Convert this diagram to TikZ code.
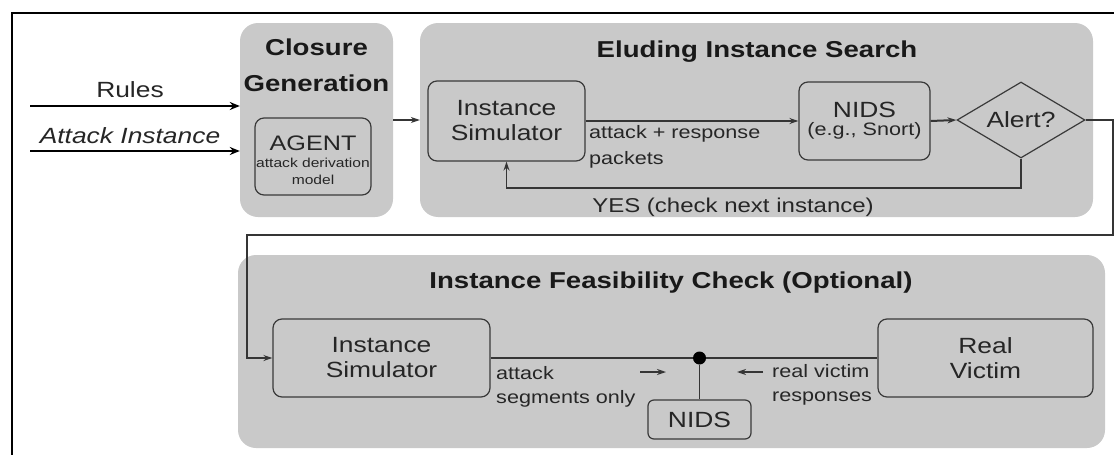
\documentclass[tikz,border=0pt]{standalone}
\usepackage{fontspec}
\setmainfont[FakeStretch=1.2]{Liberation Sans}
\usetikzlibrary{shapes.geometric,arrows.meta,calc}
\definecolor{grp}{HTML}{C9C9C9}
\definecolor{bord}{HTML}{3A3A3A}
\definecolor{lin}{HTML}{353535}
\newcommand{\fs}[1]{\fontsize{#1}{#1}\selectfont}
\begin{document}
\begin{tikzpicture}[x=1pt,y=-1pt,
  grpbox/.style={fill=grp,draw=none,rounded corners=18pt,inner sep=0pt},
  ibox/.style={draw=bord,line width=1.2pt,rounded corners=9pt,inner sep=0pt,align=center,text=black!85},
  conn/.style={draw=lin,line width=1.6pt,-{Stealth[length=9pt,width=6pt]}},
  plain/.style={draw=lin,line width=1.6pt},
  inarrow/.style={draw=black,line width=2.4pt,-{Stealth[length=10pt,width=8pt]}},
  ttl/.style={font=\fs{23}\bfseries,text=black!90},
  lbl/.style={font=\fs{18},text=black!85,align=left,inner sep=0pt}
]
\useasboundingbox (0,0) rectangle (1114,455);
% frame
\draw[line width=2pt] (12,455) -- (12,13) -- (1114,13);

% groups
\node[grpbox,minimum width=153pt,minimum height=194pt] (clos) at (316.5,120) {};
\node[grpbox,minimum width=673pt,minimum height=194pt] (elud) at (756.5,120) {};
\node[grpbox,minimum width=867pt,minimum height=193pt] (feas) at (671.5,351.5) {};

% titles
\node[ttl] (tclos1) at (316.5,47) {Closure};
\node[ttl] (tclos2) at (316.5,83) {Generation};
\node[ttl] (telud) at (757,52) {Eluding Instance Search};
\node[ttl] (tfeas) at (671,283) {Instance Feasibility Check (Optional)};

% inputs
\node[font=\fs{22},text=black!85] (rules) at (130,90) {Rules};
\node[font=\fs{22}\itshape,text=black!85] (ainst) at (130,136) {Attack Instance};
\coordinate (r0) at (30,106);
\coordinate (a0) at (30,151);
\draw[inarrow] (r0) -- (r0 -| clos.west);
\draw[inarrow] (a0) -- (a0 -| clos.west);

% AGENT
\node[ibox,minimum width=116pt,minimum height=77pt] (agent) at (313,156.5) {};
\node[font=\fs{21},text=black!85] (agt) at (313,143) {AGENT};
\node[font=\fs{13},text=black!85] (agd) at (313,163) {attack derivation};
\node[font=\fs{13},text=black!85] (agm) at (313,180) {model};

% closure -> eluding
\coordinate (ce) at (393,120);
\draw[conn,line width=1.2pt] (ce) -- (ce -| elud.west);

% eluding instance search
\node[ibox,minimum width=157pt,minimum height=80pt,font=\fs{22}] (sim1) at (506.5,121) {Instance\\[3pt]Simulator};
\node[ibox,minimum width=131pt,minimum height=78pt] (nids1) at (864.5,121) {\fs{22}NIDS\\[4pt]\fs{18}(e.g., Snort)};
\node[draw=bord,line width=1.2pt,diamond,aspect=1.68,minimum width=128pt,minimum height=76pt,inner sep=0pt,font=\fs{22},text=black!85] (alert) at (1021,120) {Alert?};

\draw[conn] (sim1.east |- 0,121) -- (nids1.west);
\draw[conn,line width=2pt] (nids1.east) -- (alert.west);
\coordinate (fb) at (0,188);
\draw[conn] (alert.south) -- (alert.south |- fb) -| (sim1.south);

\node[lbl,anchor=north west] (lap) at (589,125) {attack + response\\[8pt]packets};
\node[font=\fs{20},text=black!85] (yes) at (733,207) {YES (check next instance)};

% loop to feasibility
\coordinate (rx) at (1113,235);
\coordinate (lx) at (247,235);

% feasibility
\node[ibox,minimum width=217pt,minimum height=78pt,font=\fs{22}] (sim2) at (381.5,358) {Instance\\[3pt]Simulator};
\node[ibox,minimum width=215pt,minimum height=78pt,font=\fs{22}] (rv) at (985.5,358) {Real\\[3pt]Victim};
\node[ibox,minimum width=103pt,minimum height=39pt,font=\fs{22},rounded corners=6pt] (nids2) at (699.5,419.5) {NIDS};
\node[circle,fill=black,inner sep=0pt,minimum size=13pt] (dot) at (699.5,358) {};

\draw[conn] (alert.east) -| (rx) -- (lx) |- (sim2.west);

\draw[plain] (sim2.east) -- (dot) -- (rv.west);
\draw[plain] (dot) -- (nids2.north);

\coordinate (sa1) at (640,372);
\coordinate (sa2) at (666,372);
\coordinate (sb1) at (763,372);
\coordinate (sb2) at (737,372);
\draw[conn,line width=1.4pt] (sa1) -- (sa2);
\draw[conn,line width=1.4pt] (sb1) -- (sb2);

\node[lbl,anchor=north west] (las) at (496,366) {attack\\[6pt]segments only};
\node[lbl,anchor=north west] (lrv) at (772,364) {real victim\\[6pt]responses};
\end{tikzpicture}
\end{document}
